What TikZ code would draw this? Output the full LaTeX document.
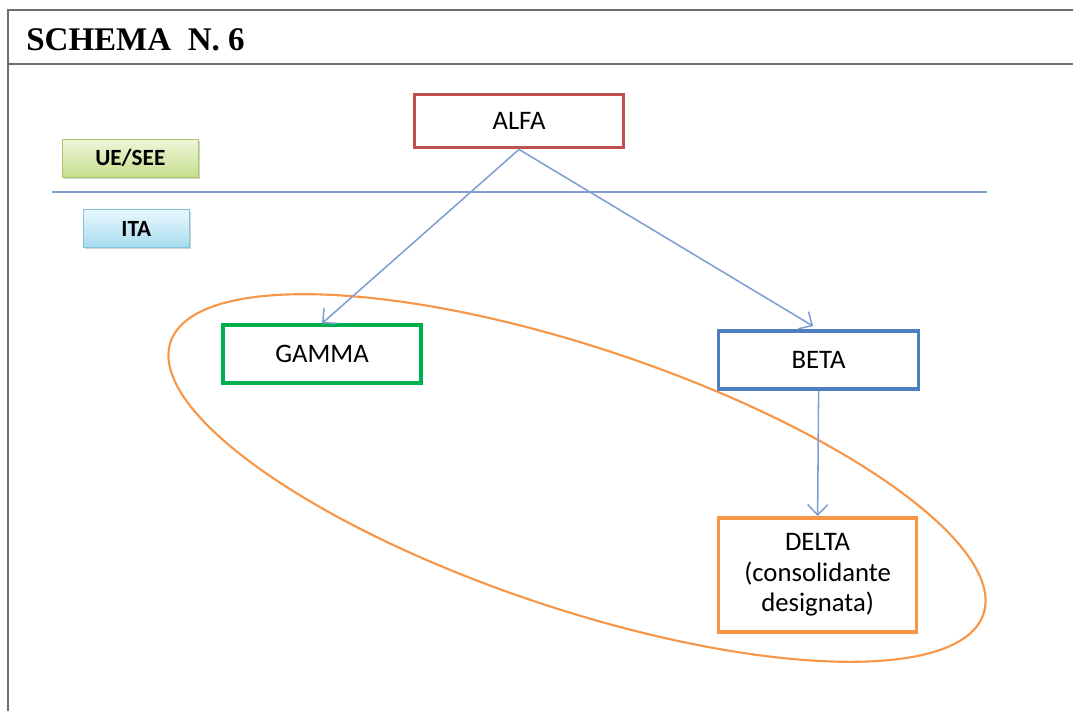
\documentclass[tikz,border=0pt]{standalone}
\usepackage{fontspec}
\setmainfont{Carlito}
\newfontfamily\titlefont{Liberation Serif}
\usetikzlibrary{positioning,arrows.meta,shadows}

\definecolor{alfared}{HTML}{C0504D}
\definecolor{gammagreen}{HTML}{00B050}
\definecolor{betablue}{HTML}{4F7DC0}
\definecolor{deltaorange}{HTML}{F79646}
\definecolor{arrowblue}{HTML}{7F9FD3}
\definecolor{framegray}{HTML}{6E6E6E}
\definecolor{ueseetop}{HTML}{EEF6DA}
\definecolor{ueseebot}{HTML}{C6DE8C}
\definecolor{ueseeline}{HTML}{A9C86A}
\definecolor{itatop}{HTML}{E8F7FC}
\definecolor{itabot}{HTML}{A8DCF0}
\definecolor{italine}{HTML}{7FC4DD}

\begin{document}
\begin{tikzpicture}[ent/.style={draw,line width=2.6pt,fill=white,align=center,inner sep=2pt,font=\fontsize{19}{21.5}\selectfont},
						tag/.style={draw,line width=0.7pt,font=\fontsize{16.5}{19}\selectfont\bfseries,drop shadow={opacity=0.35,shadow xshift=1pt,shadow yshift=-1.2pt}},
						arr/.style={draw=arrowblue,line width=1.1pt,-{Straight Barb[length=2.6mm,width=5mm]}}]
		\useasboundingbox (0,0) rectangle (26.825,-17.75);

		% frame and title
		\draw[framegray,line width=1.4pt] (0.2,-17.8) -- (0.2,-0.25) -- (26.9,-0.25);
		\draw[framegray,line width=1.4pt] (0.2,-1.6) -- (26.9,-1.6);
		\node[anchor=base west,inner sep=0pt,font=\titlefont\fontsize{23.5}{26}\selectfont\bfseries]	(title)	at (0.65,-1.25)	{SCHEMA\ \ N. 6};

		% entities
		\node[ent,draw=alfared,minimum width=5.22cm,minimum height=1.33cm]										(alfa)	at (12.975,-3.025)	{ALFA};
		\node[ent,draw=gammagreen,minimum width=4.95cm,minimum height=1.45cm,node distance=4.35cm,below=of alfa,xshift=-4.925cm]	(gamma)	{GAMMA};
		\node[ent,draw=betablue,minimum width=5.0cm,minimum height=1.45cm,node distance=4.5cm,below=of alfa,xshift=7.49cm]		(beta)	{BETA};
		\node[ent,draw=deltaorange,minimum width=4.95cm,minimum height=2.85cm,node distance=3.125cm,below=of beta,xshift=-0.025cm]	(delta)	{DELTA\\(consolidante\\designata)};

		% areas
		\node[tag,draw=ueseeline,top color=ueseetop,bottom color=ueseebot,minimum width=3.4cm,minimum height=0.95cm,node distance=5.35cm,left=of alfa,yshift=-0.925cm]	(uesee)	{UE/SEE};
		\node[tag,draw=italine,top color=itatop,bottom color=itabot,minimum width=2.65cm,minimum height=0.93cm,node distance=0.8cm,below=of uesee,xshift=0.15cm]	(ita)	{ITA};
		\coordinate (sepL) at (1.3,-4.8);
		\coordinate (sepR) at (24.675,-4.8);
		\draw[arrowblue,line width=1pt] (sepL) -- (sepR);

		% consolidation group
		\draw[deltaorange,line width=1.5pt,rotate around={-18.5:(14.425,-11.95)}] (14.425,-11.95) ellipse [x radius=10.715cm,y radius=3.26cm];

		\draw[arr] (alfa.south) -- (gamma.north);
		\draw[arr,shorten >=4.5pt] (alfa.south) -- (beta.north);
		\draw[arr] (beta.south) -- (delta.north);
	\end{tikzpicture}
\end{document}
